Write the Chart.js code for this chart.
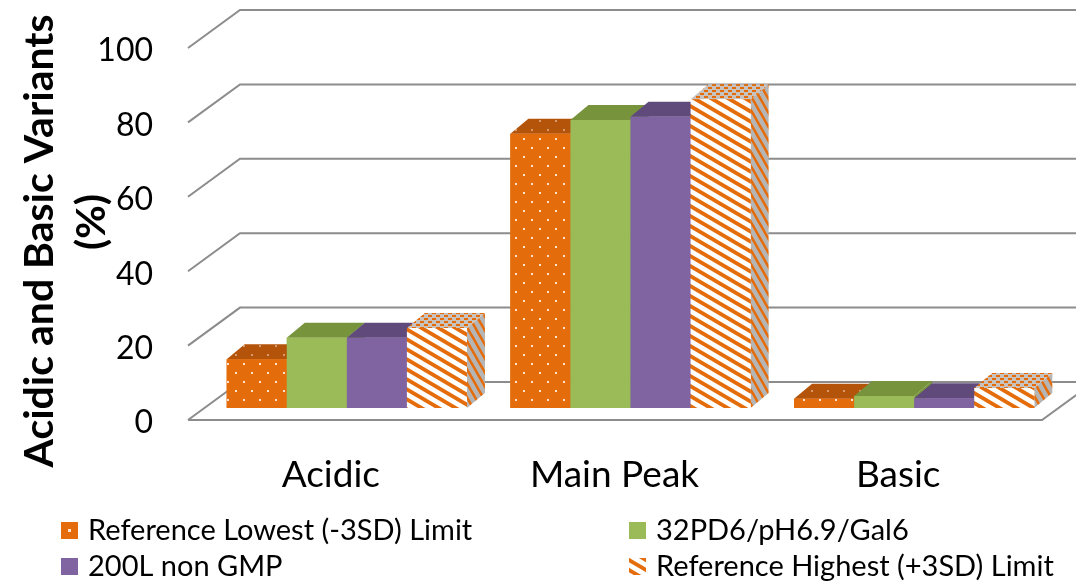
<!DOCTYPE html>
<html lang="en">
<head>
<meta charset="UTF-8">
<title>Acidic and Basic Variants</title>
<script src="https://cdn.jsdelivr.net/npm/chart.js"></script>
<style>
    body { margin: 0; background: #fff; }
    #wrap { width: 1076px; height: 584px; }
</style>
</head>
<body>
<div id="wrap"><canvas id="chartCanvas" width="1076" height="584"></canvas></div>
<script>
    const categories = ['Acidic', 'Main Peak', 'Basic'];
    const seriesNames = [
        'Reference Lowest (-3SD) Limit',
        '32PD6/pH6.9/Gal6',
        '200L non GMP',
        'Reference Highest (+3SD) Limit'
    ];
    const refLowest = [13.1, 73.7, 2.5];
    const pd6 = [18.9, 77.4, 3.2];
    const nonGmp = [18.9, 78.3, 2.6];
    const refHighest = [21.5, 83.0, 5.4];
    const yMin = 0, yMax = 100, yStep = 20;

    const ORANGE = '#e46c0a', GREEN = '#9bbb59', PURPLE = '#8064a2';
    const GRID = '#8c8c8c';
    // depth of the bar boxes and of the floor (pixels)
    const BAR_DX = 18, BAR_DY = -15;
    const FLOOR_DX = 52, FLOOR_DY = -38;

    function tile(w, h, paint) {
        const c = document.createElement('canvas');
        c.width = w; c.height = h;
        paint(c.getContext('2d'), w, h);
        return document.createElement('canvas').getContext('2d').createPattern(c, 'repeat');
    }
    function dots(bg, dot) {
        return tile(16, 18, (g) => {
            g.fillStyle = bg; g.fillRect(0, 0, 16, 18);
            g.fillStyle = dot;
            g.fillRect(3, 3, 2, 2);
            g.fillRect(11, 12, 2, 2);
        });
    }
    function stripes(bg, fg, w, h, lw) {
        return tile(w, h, (g) => {
            g.fillStyle = bg; g.fillRect(0, 0, w, h);
            g.strokeStyle = fg; g.lineWidth = lw;
            for (let k = -1; k <= 1; k++) {
                g.beginPath();
                g.moveTo(-w, k * h - h);
                g.lineTo(2 * w, k * h + 2 * h);
                g.stroke();
            }
        });
    }
    function checker(a, b) {
        return tile(8, 6, (g) => {
            g.fillStyle = b; g.fillRect(0, 0, 8, 6);
            g.fillStyle = a;
            g.fillRect(0, 0, 4, 2);
            g.fillRect(4, 3, 4, 2);
        });
    }

    const frontFills = [dots(ORANGE, '#fbe3cf'), GREEN, PURPLE, stripes('#ffffff', ORANGE, 17, 10, 3.8)];
    const topFills = [dots('#b4540a', '#d99a6c'), '#77933c', '#5f4a7b', checker(ORANGE, '#c8c3bf')];
    const sideFills = ['#b4540a', '#77933c', '#5f4a7b', stripes('#b5b5b5', ORANGE, 8, 14, 2.6)];
    const seriesData = [refLowest, pd6, nonGmp, refHighest];

    function poly(ctx, pts, fill) {
        ctx.beginPath();
        ctx.moveTo(pts[0][0], pts[0][1]);
        for (let i = 1; i < pts.length; i++) ctx.lineTo(pts[i][0], pts[i][1]);
        ctx.closePath();
        ctx.fillStyle = fill;
        ctx.fill();
    }

    const box3d = {
        id: 'box3d',
        beforeDatasetsDraw(chart) {
            const ctx = chart.ctx, y = chart.scales.y, area = chart.chartArea;
            const fl = area.left - 17, fr = area.right - 14; // front floor corners
            const bl = fl + FLOOR_DX, br = fr + FLOOR_DX;
            ctx.save();
            ctx.strokeStyle = GRID;
            ctx.lineWidth = 2;
            for (let v = yMin; v <= yMax; v += yStep) {
                const front = y.getPixelForValue(v) + 12;
                const back = front + FLOOR_DY;
                ctx.beginPath();
                ctx.moveTo(fl, front);
                ctx.lineTo(bl, back);
                ctx.lineTo(br, back);
                ctx.stroke();
            }
            const f0 = y.getPixelForValue(0) + 12;
            ctx.beginPath();
            ctx.moveTo(fl, f0);
            ctx.lineTo(fr, f0);
            ctx.lineTo(br, f0 + FLOOR_DY);
            ctx.stroke();
            ctx.restore();
        },
        // boxes are painted left to right so each bar hides the side of the one before
        afterDatasetsDraw(chart) {
            const ctx = chart.ctx;
            ctx.save();
            categories.forEach((c, j) => {
                chart.data.datasets.forEach((ds, i) => {
                    const bar = chart.getDatasetMeta(i).data[j];
                    const p = bar.getProps(['x', 'y', 'base', 'width'], true);
                    const l = p.x - p.width / 2, r = p.x + p.width / 2;
                    poly(ctx, [[r, p.y], [r + BAR_DX, p.y + BAR_DY], [r + BAR_DX, p.base + BAR_DY], [r, p.base]], sideFills[i]);
                    poly(ctx, [[l, p.y], [l + BAR_DX, p.y + BAR_DY], [r + BAR_DX, p.y + BAR_DY], [r, p.y]], topFills[i]);
                    poly(ctx, [[l, p.y], [r, p.y], [r, p.base], [l, p.base]], frontFills[i]);
                });
            });
            ctx.restore();
        },
        afterDraw(chart) {
            const ctx = chart.ctx;
            ctx.save();
            // axis title
            ctx.fillStyle = '#000';
            ctx.font = 'bold 41px Lato';
            ctx.textAlign = 'center';
            ctx.textBaseline = 'middle';
            ctx.translate(40, 241);
            ctx.rotate(-Math.PI / 2);
            ctx.fillText('Acidic and Basic Variants', 0, 0);
            ctx.fillText('(%)', 19, 52);
            ctx.restore();

            // legend, two columns
            ctx.save();
            ctx.font = '29px Lato';
            ctx.textBaseline = 'middle';
            const cols = [61, 629], rows = [530, 566];
            chart.data.datasets.forEach((ds, k) => {
                const bx = cols[k % 2], cy = rows[Math.floor(k / 2)];
                if (k === 0) {
                    ctx.fillStyle = ORANGE; ctx.fillRect(bx, cy - 8, 17, 17);
                    ctx.fillStyle = '#fbe3cf'; ctx.fillRect(bx + 7, cy - 1, 3, 3);
                } else {
                    ctx.fillStyle = frontFills[k];
                    ctx.fillRect(bx, cy - 8, 17, 17);
                }
                ctx.fillStyle = '#000';
                ctx.fillText(ds.label, bx + 27, cy + 1);
            });
            ctx.restore();
        }
    };

    function draw() {
        new Chart(document.getElementById('chartCanvas'), {
            type: 'bar',
            data: {
                labels: categories,
                datasets: seriesData.map((d, i) => ({
                    label: seriesNames[i],
                    data: d,
                    backgroundColor: frontFills[i],
                    borderWidth: 0,
                    barPercentage: 1,
                    categoryPercentage: 0.847
                }))
            },
            options: {
                responsive: false,
                animation: false,
                layout: { padding: { top: 36, bottom: 90, right: 20, left: 0 } },
                plugins: { legend: { display: false }, tooltip: { enabled: false } },
                scales: {
                    x: {
                        grid: { display: false, drawTicks: false },
                        border: { display: false },
                        ticks: { color: '#000', font: { family: 'Lato', size: 37 }, padding: 45, labelOffset: -16 },
                        afterFit: (s) => { s.height = 86; }
                    },
                    y: {
                        min: yMin, max: yMax,
                        grid: { display: false, drawTicks: false },
                        border: { display: false },
                        ticks: { stepSize: yStep, color: '#000', font: { family: 'Lato', size: 32 }, padding: 52, labelOffset: 15 },
                        afterFit: (s) => { s.width = 205; s.paddingTop = 0; s.paddingBottom = 0; }
                    }
                }
            },
            plugins: [box3d]
        });
    }

    if (document.fonts && document.fonts.load) {
        Promise.all([document.fonts.load('32px Lato'), document.fonts.load('bold 41px Lato')]).then(draw, draw);
    } else {
        draw();
    }
</script>
</body>
</html>
